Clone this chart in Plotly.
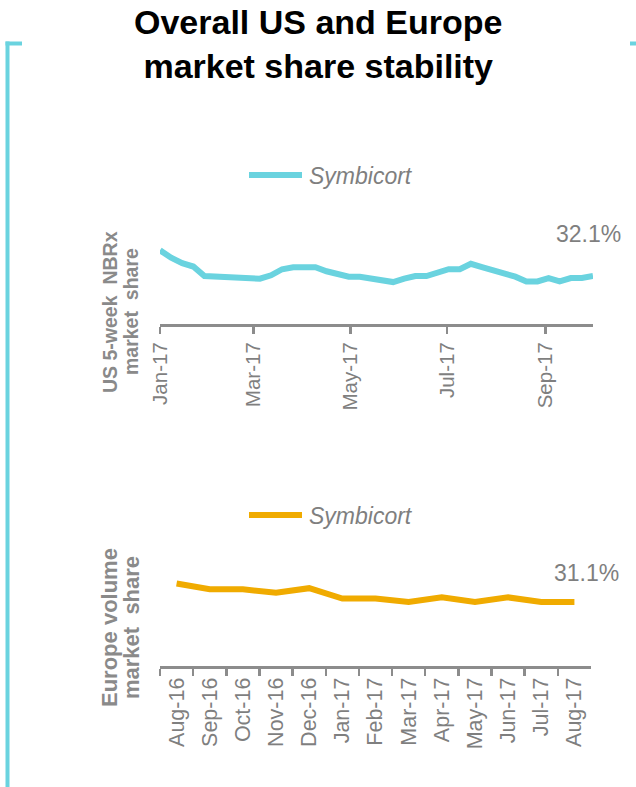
import plotly.graph_objects as go

W, H = 636, 787

# ---------------- data ----------------
us_dates = [
    "2017-01-06", "2017-01-13", "2017-01-20", "2017-01-27", "2017-02-03",
    "2017-02-10", "2017-02-17", "2017-02-24", "2017-03-03", "2017-03-10",
    "2017-03-17", "2017-03-24", "2017-03-31", "2017-04-07", "2017-04-14",
    "2017-04-21", "2017-04-28", "2017-05-05", "2017-05-12", "2017-05-19",
    "2017-05-26", "2017-06-02", "2017-06-09", "2017-06-16", "2017-06-23",
    "2017-06-30", "2017-07-07", "2017-07-14", "2017-07-21", "2017-07-28",
    "2017-08-04", "2017-08-11", "2017-08-18", "2017-08-25", "2017-09-01",
    "2017-09-08", "2017-09-15", "2017-09-22", "2017-09-29", "2017-10-06",
]
us_share = [35.9, 34.8, 34.0, 33.5, 32.1, 32.0, 32.0, 31.7, 31.7, 31.7,
            32.2, 33.1, 33.4, 33.4, 33.4, 32.8, 32.4, 32.0, 32.0, 31.7,
            31.6, 31.2, 31.7, 32.1, 32.1, 32.7, 33.1, 33.1, 33.9, 33.4,
            33.0, 32.5, 32.0, 31.3, 31.3, 31.8, 31.3, 31.8, 31.8, 32.1]

eu_months = ["Aug-16", "Sep-16", "Oct-16", "Nov-16", "Dec-16", "Jan-17", "Feb-17",
             "Mar-17", "Apr-17", "May-17", "Jun-17", "Jul-17", "Aug-17"]
eu_share = [34.3, 33.3, 33.3, 32.7, 33.5, 31.7, 31.7, 31.1, 31.9, 31.1, 31.9, 31.1, 31.1]

series_name = "Symbicort"
title_text = "Overall US and Europe<br>market share stability"
us_ytitle = ["US 5-week  NBRx", "market  share"]
eu_ytitle = ["Europe volume", "market  share"]

# ---------------- styles ----------------
CYAN = "#6AD3DF"
ORANGE = "#F0AB00"
GREY = "#7F7F7F"
AXIS = "#8C8C8C"
FONT = "Liberation Sans, Arial, sans-serif"


def px_x(x):
    return x / W


def px_y(y):
    return 1 - y / H


fig = go.Figure()
fig.add_trace(go.Scatter(x=us_dates, y=us_share, mode="lines", name=series_name,
                         line=dict(color=CYAN, width=6), xaxis="x", yaxis="y",
                         showlegend=False, hoverinfo="skip"))
fig.add_trace(go.Scatter(x=eu_months, y=eu_share, mode="lines", name=series_name,
                         line=dict(color=ORANGE, width=6), xaxis="x2", yaxis="y2",
                         showlegend=False, hoverinfo="skip"))

fig.update_layout(
    width=W, height=H, autosize=False,
    margin=dict(l=0, r=0, t=0, b=0, pad=0, autoexpand=False),
    paper_bgcolor="white", plot_bgcolor="white",
    xaxis=dict(domain=[px_x(160), px_x(593)], type="date",
               range=[us_dates[0], us_dates[-1]],
               tick0=us_dates[0], dtick="M2", tickformat="%b-%y",
               tickangle=-90, tickfont=dict(family=FONT, size=20.5, color=GREY),
               automargin=False,
               showline=True, linecolor=AXIS, linewidth=3,
               ticks="outside", ticklen=7, tickwidth=2.5, tickcolor=AXIS,
               showgrid=False, zeroline=False, anchor="y"),
    yaxis=dict(domain=[px_y(324), px_y(200)], range=[25, 25 + 124 / 6.761],
               visible=False, anchor="x", automargin=False),
    xaxis2=dict(domain=[px_x(160), px_x(591)], type="category",
                range=[-0.5, len(eu_months) - 0.5],
                tickangle=-90, tickfont=dict(family=FONT, size=21.5, color=GREY),
                tickson="boundaries", automargin=False,
                showline=True, linecolor=AXIS, linewidth=3,
                ticks="outside", ticklen=7, tickwidth=2.5, tickcolor=AXIS,
                showgrid=False, zeroline=False, anchor="y2"),
    yaxis2=dict(domain=[px_y(666), px_y(545)], range=[20, 20 + 121 / 5.766],
                visible=False, anchor="x2", automargin=False),
)

shapes = [
    # bracket frame
    dict(type="line", xref="paper", yref="paper", x0=px_x(7.5), x1=px_x(7.5),
         y0=px_y(41.5), y1=px_y(790), line=dict(color=CYAN, width=4)),
    dict(type="line", xref="paper", yref="paper", x0=px_x(5.5), x1=px_x(22),
         y0=px_y(43.5), y1=px_y(43.5), line=dict(color=CYAN, width=4)),
    dict(type="line", xref="paper", yref="paper", x0=px_x(630), x1=px_x(637),
         y0=px_y(43.5), y1=px_y(43.5), line=dict(color=CYAN, width=4)),
    # legend keys
    dict(type="line", xref="paper", yref="paper", x0=px_x(249), x1=px_x(302),
         y0=px_y(175), y1=px_y(175), line=dict(color=CYAN, width=6)),
    dict(type="line", xref="paper", yref="paper", x0=px_x(249), x1=px_x(302),
         y0=px_y(515), y1=px_y(515), line=dict(color=ORANGE, width=6)),
]
fig.update_layout(shapes=shapes)

ann = []
ann.append(dict(text="<b>" + title_text + "</b>", xref="paper", yref="paper",
                x=0.5, y=px_y(44), xanchor="center", yanchor="middle",
                showarrow=False, font=dict(family=FONT, size=34, color="black")))
# legends
for yy in (176, 516):
    ann.append(dict(text=series_name, xref="paper", yref="paper", x=px_x(307),
                    y=px_y(yy), xanchor="left", yanchor="middle", showarrow=False,
                    font=dict(family=FONT, size=23, color=GREY, style="italic")))
# y titles
for txt, xx, yy, fs in ((us_ytitle[0], 110, 312, 19.5), (us_ytitle[1], 131, 312, 19.5),
                        (eu_ytitle[0], 109, 628, 22), (eu_ytitle[1], 131, 628, 22)):
    ann.append(dict(text="<b>" + txt + "</b>", xref="paper", yref="paper",
                    x=px_x(xx), y=px_y(yy), xanchor="center", yanchor="middle",
                    textangle=-90, showarrow=False,
                    font=dict(family=FONT, size=fs, color="#8A8A8A")))
# end value labels
ann.append(dict(text=f"{us_share[-1]:.1f}%", xref="x", yref="y",
                x=us_dates[-1], y=us_share[-1], xanchor="center", yanchor="middle",
                xshift=-5, yshift=42, showarrow=False,
                font=dict(family=FONT, size=23, color=GREY)))
ann.append(dict(text=f"{eu_share[-1]:.1f}%", xref="x2", yref="y2",
                x=eu_months[-1], y=eu_share[-1], xanchor="center", yanchor="middle",
                xshift=12, yshift=29, showarrow=False,
                font=dict(family=FONT, size=23, color=GREY)))
fig.update_layout(annotations=ann)

fig.write_html("out.html",
               config={"displayModeBar": False, "staticPlot": True},
               post_script="document.body.style.margin='0';"
                           "document.body.style.overflow='hidden';")
